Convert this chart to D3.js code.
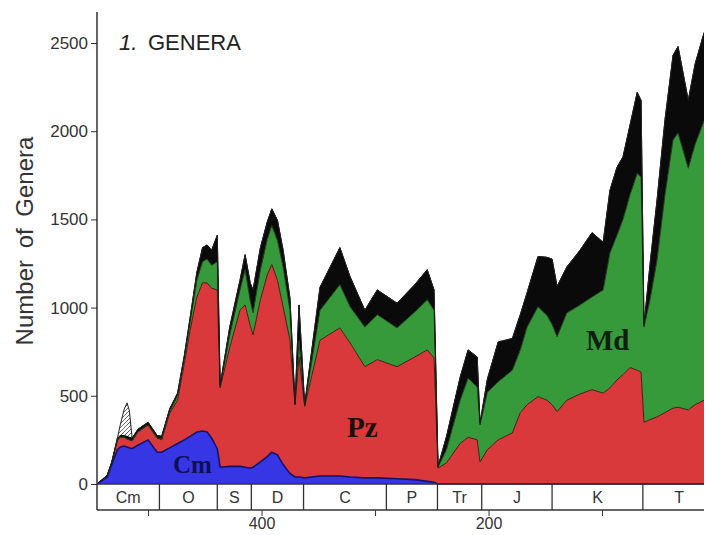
<!DOCTYPE html>
<html>
<head>
<meta charset="utf-8">
<script src="https://d3js.org/d3.v7.min.js"></script>
<style>
  body{margin:0;background:#fff;}
  svg{display:block;font-family:"Liberation Sans",Arial,sans-serif;}
  .tick text{fill:#333;}
  .fauna{font-family:"Liberation Serif","Times New Roman",serif;font-weight:bold;}
</style>
</head>
<body>
<div id="chart"></div>
<script>
// age in Ma (oldest first) and genera per fauna
var ages      = [545,536,532,527,524.5,521,518.5,516.5,514,509,500,492,488,481,474,468,463,457,452,448,444,439,436.5,428,419,414.5,410,407.5,401,395,391,386,381,375,370.5,367,362,348.5,331,322,309,298,280.6,265,254,248,244.5,237,225,218,210,207.5,201,191.5,179,172,166,156.4,148.5,144,139.6,131,119.4,108.8,99,93,86.8,81.5,75.3,69,65.6,63,57.7,51.5,44.5,37.4,33,24,18,10];
var cambrian  = [0,40,110,195,210,215,210,205,200,220,250,180,180,205,230,250,270,295,300,295,260,200,95,100,100,95,90,95,125,155,180,165,110,60,40,40,35,45,45,40,35,35,30,25,15,10,0,0,0,0,0,0,0,0,0,0,0,0,0,0,0,0,0,0,0,0,0,0,0,0,0,0,0,0,0,0,0,0,0,0];
var paleozoic = [0,5,10,55,55,50,45,45,45,75,85,80,70,195,245,435,600,765,840,845,850,900,450,675,885,920,810,750,920,1030,1065,990,895,755,410,680,405,770,840,760,630,670,635,695,745,705,90,120,230,265,250,125,195,250,290,405,450,495,475,450,410,475,510,535,515,545,590,620,660,645,635,350,365,380,405,430,435,420,450,475];
var modern    = [0,0,0,0,0,0,0,0,0,0,0,0,5,10,25,30,45,95,120,135,130,160,5,70,115,200,140,125,170,200,220,225,225,170,0,95,5,170,245,205,225,255,220,255,285,270,5,75,245,335,300,210,325,330,355,355,440,510,480,455,425,495,505,525,585,765,820,880,980,1115,1105,540,680,890,1235,1520,1555,1370,1475,1585];
var unplaced  = [0,5,5,10,10,10,15,15,15,15,15,15,15,15,15,15,25,45,80,80,85,150,10,45,55,85,100,130,125,100,95,115,95,70,5,200,5,130,210,170,95,140,140,155,170,115,5,75,130,160,170,10,75,225,180,200,195,285,330,370,285,260,310,365,270,355,385,355,395,460,435,10,200,340,425,480,490,385,455,500];
var hatched   = [0,0,0,0,60,150,190,150,0,0,0,0,0,0,0,0,0,0,0,0,0,0,0,0,0,0,0,0,0,0,0,0,0,0,0,0,0,0,0,0,0,0,0,0,0,0,0,0,0,0,0,0,0,0,0,0,0,0,0,0,0,0,0,0,0,0,0,0,0,0,0,0,0,0,0,0,0,0,0,0];

var periodBounds = [545,490,439,409,363,290,245,206,144,64,0];
var periodNames  = ["Cm","O","S","D","C","P","Tr","J","K","T"];
var yTicks = [0,500,1000,1500,2000,2500];
var xTicks = [500,400,300,200,100];
var xLabels = [400,200];

var width = 709, height = 535;
var left = 97, right = 704, base = 484, stripBottom = 510;

var x = d3.scaleLinear().domain([545, 0]).range([left, 715.5]);
var y = d3.scaleLinear().domain([0, 2500]).range([base, 43]);

var rows = ages.map(function(a, i){
  return {age:a, cm:cambrian[i], pz:paleozoic[i], md:modern[i], un:unplaced[i], ht:hatched[i]};
});
var keys = ["cm","pz","md","un","ht"];
var fills = {cm:"#3636e4", pz:"#d9393a", md:"#369a3b", un:"#0a0a0a", ht:"url(#hatch)"};
var edges = {cm:"#12126a", pz:"#4a1a12", md:"#1d3d1d", un:"#000", ht:"#222"};

var stacked = d3.stack().keys(keys)(rows);

var svg = d3.select("#chart").append("svg")
  .attr("width", width).attr("height", height);

var defs = svg.append("defs");
var pat = defs.append("pattern").attr("id","hatch")
  .attr("patternUnits","userSpaceOnUse").attr("width",4).attr("height",4);
pat.append("rect").attr("width",4).attr("height",4).attr("fill","#fff");
pat.append("path").attr("d","M0,4 L4,0").attr("stroke","#444").attr("stroke-width",0.8);
defs.append("clipPath").attr("id","plot")
  .append("rect").attr("x",left).attr("y",0).attr("width",right-left).attr("height",base+1);

var area = d3.area()
  .x(function(d){ return x(d.data.age); })
  .y0(function(d){ return y(d[0]); })
  .y1(function(d){ return y(d[1]); });
var topLine = d3.line()
  .x(function(d){ return x(d.data.age); })
  .y(function(d){ return y(d[1]); });

var g = svg.append("g").attr("clip-path","url(#plot)");
g.selectAll("path.layer").data(stacked).enter().append("path")
  .attr("class","layer")
  .attr("d", area)
  .attr("fill", function(d){ return fills[d.key]; });
g.selectAll("path.edge").data(stacked).enter().append("path")
  .attr("class","edge")
  .attr("d", topLine)
  .attr("fill","none")
  .attr("stroke", function(d){ return edges[d.key]; })
  .attr("stroke-width", function(d){ return d.key == "cm" ? 1.6 : 1; });

// fauna labels
svg.append("text").attr("class","fauna").attr("x",173).attr("y",473)
  .attr("font-size",25).attr("fill","#0e0e5c").text("Cm");
svg.append("text").attr("class","fauna").attr("x",347).attr("y",437)
  .attr("font-size",29).attr("fill","#1a0f0c").text("Pz");
svg.append("text").attr("class","fauna").attr("x",586).attr("y",350)
  .attr("font-size",29).attr("fill","#0f200f").text("Md");

// time-scale strip
var strip = svg.append("g");
strip.selectAll("line.div").data(periodBounds.slice(1, -1)).enter().append("line")
  .attr("x1", function(d){ return x(d); }).attr("x2", function(d){ return x(d); })
  .attr("y1", base).attr("y2", stripBottom)
  .attr("stroke","#333").attr("stroke-width",1.3);
strip.selectAll("text").data(periodNames).enter().append("text")
  .attr("x", function(d, i){ return (x(periodBounds[i]) + x(periodBounds[i+1])) / 2; })
  .attr("y", 503)
  .attr("text-anchor","middle").attr("font-size",16).attr("fill","#333")
  .text(function(d){ return d; });
svg.append("line").attr("x1",left).attr("x2",right).attr("y1",base).attr("y2",base)
  .attr("stroke","#333").attr("stroke-width",1.4);
svg.append("line").attr("x1",left).attr("x2",right).attr("y1",stripBottom).attr("y2",stripBottom)
  .attr("stroke","#333").attr("stroke-width",1.4);

// axes
var yAxis = svg.append("g").attr("transform","translate("+left+",0)")
  .call(d3.axisLeft(y).tickValues(yTicks).tickSize(6).tickPadding(3).tickFormat(d3.format("d")));
yAxis.select(".domain").remove();
yAxis.selectAll("text").attr("font-size",17).attr("font-family","Liberation Sans, Arial, sans-serif");
yAxis.selectAll("line").attr("stroke","#333");
svg.append("line").attr("x1",left).attr("x2",left).attr("y1",12).attr("y2",stripBottom)
  .attr("stroke","#333").attr("stroke-width",1.5);

var xAxis = svg.append("g").attr("transform","translate(0,"+stripBottom+")")
  .call(d3.axisBottom(x).tickValues(xTicks).tickSize(6).tickPadding(2)
    .tickFormat(function(d){ return xLabels.indexOf(d) >= 0 ? d : ""; }));
xAxis.select(".domain").remove();
xAxis.selectAll("text").attr("font-size",16).attr("font-family","Liberation Sans, Arial, sans-serif");
xAxis.selectAll("line").attr("stroke","#333");

// titles
var title = svg.append("text").attr("x",119).attr("y",50).attr("font-size",22).attr("fill","#222");
title.append("tspan").attr("font-style","italic").text("1.");
title.append("tspan").attr("x",148).text("GENERA");

svg.append("text")
  .attr("transform","translate(33,241) rotate(-90)")
  .attr("text-anchor","middle").attr("font-size",24).attr("fill","#333")
  .attr("word-spacing",5)
  .text("Number of Genera");
</script>
</body>
</html>
